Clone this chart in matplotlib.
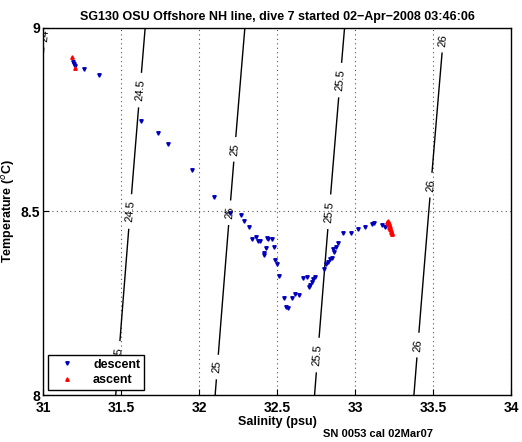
import matplotlib
matplotlib.use('Agg')
import matplotlib.pyplot as plt
import numpy as np

plt.rcParams['font.family'] = ['Liberation Sans', 'DejaVu Sans']

# descent samples (salinity psu, temperature C)
desc_s = [31.192, 31.199, 31.205, 31.263, 31.359, 31.628, 31.737, 31.801, 31.955, 32.096,
          32.199, 32.269, 32.288, 32.321, 32.340, 32.365, 32.378, 32.391, 32.436, 32.442,
          32.468, 32.429, 32.417, 32.417, 32.481, 32.487, 32.500, 32.513, 32.545, 32.558,
          32.571, 32.596, 32.615, 32.641, 32.667, 32.692, 32.705, 32.712, 32.724, 32.731,
          32.744, 32.801, 32.814, 32.827, 32.840, 32.853, 32.859, 32.865, 32.878, 32.891,
          32.923, 32.974, 33.019, 33.064, 33.109, 33.122, 33.173, 33.192]
desc_t = [8.907, 8.902, 8.896, 8.888, 8.872, 8.747, 8.714, 8.684, 8.613, 8.540,
          8.496, 8.490, 8.474, 8.458, 8.425, 8.431, 8.420, 8.420, 8.428, 8.425,
          8.425, 8.401, 8.387, 8.381, 8.403, 8.368, 8.357, 8.324, 8.264, 8.240,
          8.237, 8.264, 8.275, 8.272, 8.319, 8.322, 8.294, 8.300, 8.308, 8.316,
          8.322, 8.343, 8.357, 8.362, 8.371, 8.373, 8.398, 8.390, 8.403, 8.414,
          8.441, 8.441, 8.452, 8.458, 8.466, 8.469, 8.463, 8.458]

# ascent samples
asc_s = [31.186, 31.205, 33.205, 33.212, 33.215, 33.220, 33.222, 33.226, 33.230, 33.232,
         33.236, 33.240, 33.216, 33.225, 33.210]
asc_t = [8.921, 8.891, 8.471, 8.466, 8.463, 8.458, 8.455, 8.452, 8.449, 8.445,
         8.442, 8.438, 8.468, 8.460, 8.474]

sigma_levels = [24, 24.5, 25, 25.5, 26]
label_pos = [(31.006, 8.98),
             (31.64, 8.83), (31.56, 8.50), (31.48, 8.10),
             (32.263, 8.668), (32.212, 8.496), (32.122, 8.076),
             (32.904, 8.858), (32.840, 8.499), (32.756, 8.109),
             (33.564, 8.967), (33.481, 8.572), (33.404, 8.136)]


def sigma0(S, T):
    # UNESCO 1980 density at surface pressure, minus 1000
    rw = (999.842594 + 6.793952e-2*T - 9.095290e-3*T**2 + 1.001685e-4*T**3
          - 1.120083e-6*T**4 + 6.536332e-9*T**5)
    A = 0.824493 - 4.0899e-3*T + 7.6438e-5*T**2 - 8.2467e-7*T**3 + 5.3875e-9*T**4
    B = -5.72466e-3 + 1.0227e-4*T - 1.6546e-6*T**2
    return rw + A*S + B*S**1.5 + 4.8314e-4*S**2 - 1000.0


fig = plt.figure(figsize=(5.22, 4.42), dpi=100)
ax = fig.add_axes([0.0824, 0.1063, 0.8966, 0.8304])

sg, tg = np.meshgrid(np.linspace(30.9, 34.1, 300), np.linspace(7.95, 9.05, 200))
cs = ax.contour(sg, tg, sigma0(sg, tg), levels=sigma_levels, colors='k', linewidths=1.0)
ax.clabel(cs, fmt=lambda v: '%g' % v, fontsize=8, inline=True, manual=label_pos)

ax.plot(desc_s, desc_t, 'v', color='#0000bb', markersize=2.5, mec='#0000bb', label='descent', zorder=3)
ax.plot(asc_s, asc_t, '^', color='#ff0000', markersize=2.5, mec='#ff0000', label='ascent', zorder=3)

ax.set_xlim(31, 34)
ax.set_ylim(8, 9)
ax.set_xticks(np.arange(31, 34.01, 0.5))
ax.set_xticklabels(['31', '31.5', '32', '32.5', '33', '33.5', '34'])
ax.set_yticks([8, 8.5, 9])
ax.set_yticklabels(['8', '8.5', '9'])
ax.grid(True, linestyle=(0, (1, 3)), color='#555555', linewidth=0.8)
ax.tick_params(direction='in', length=4, labelsize=10, pad=2)
ax.tick_params(axis='x', pad=4)
for lab in ax.get_xticklabels() + ax.get_yticklabels():
    lab.set_fontweight('bold')
for sp in ax.spines.values():
    sp.set_linewidth(1.0)

ax.set_xlabel('Salinity (psu)', fontsize=9, fontweight='bold', labelpad=1)
ax.set_ylabel('Temperature ($^o$C)', fontsize=9, fontweight='bold')
ax.yaxis.set_label_coords(-0.056, 0.5)
ax.set_title('SG130 OSU Offshore NH line, dive 7 started 02\u2212Apr\u22122008 03:46:06',
             fontsize=9, fontweight='bold', pad=6)

leg = ax.legend(loc='lower left', prop={'weight': 'bold', 'size': 9}, fancybox=False,
                edgecolor='k', framealpha=1, borderaxespad=0.4, handlelength=2.5,
                borderpad=0.3, labelspacing=0.3)
leg.get_frame().set_linewidth(1.0)
leg.set_zorder(5)

fig.text(0.619, 0.012, 'SN 0053 cal 02Mar07', fontsize=8, fontweight='bold')

fig.savefig('out.png', dpi=100)
